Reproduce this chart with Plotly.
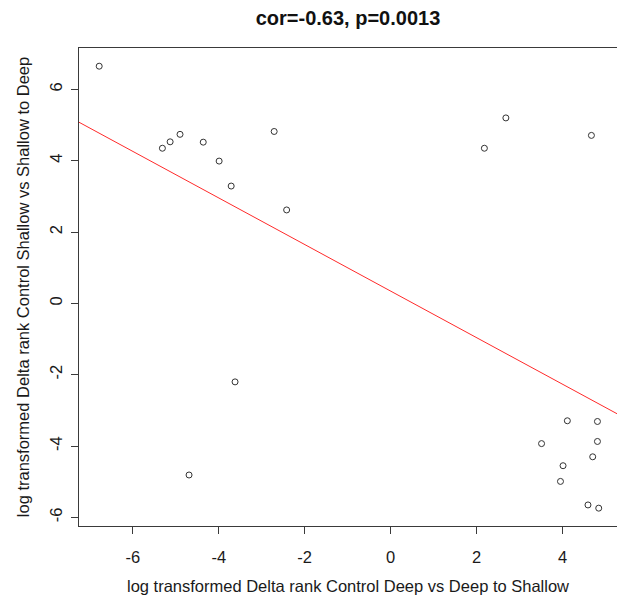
import numpy as np
import plotly.graph_objects as go

# Data
x_deep = [-6.78, -5.31, -5.13, -4.90, -4.36, -3.99, -3.71, -2.71, -2.42,
          -3.62, -4.69,
          2.68, 2.18, 4.67,
          4.11, 4.81, 3.51, 4.81, 4.70, 4.01, 3.95, 4.59, 4.84]
y_shallow = [6.65, 4.35, 4.53, 4.74, 4.52, 3.99, 3.29, 4.82, 2.62,
             -2.20, -4.81,
             5.20, 4.35, 4.71,
             -3.29, -3.31, -3.93, -3.87, -4.30, -4.55, -4.99, -5.65, -5.74]
tick_vals = [-6, -4, -2, 0, 2, 4, 6]
tick_text = ["-6", "-4", "-2", "0", "2", "4", "6"]
title_text = "cor=-0.63, p=0.0013"
x_title = "log transformed Delta rank Control Deep vs Deep to Shallow"
y_title = "log transformed Delta rank Control Shallow vs Shallow to Deep"

X_RANGE = [-7.25, 5.265]
Y_RANGE = [-6.24, 7.16]

# least-squares fit (abline(lm(y ~ x)))
slope, intercept = np.polyfit(np.array(x_deep), np.array(y_shallow), 1)

FONT = "Liberation Sans, Arial, sans-serif"
AX = "#3a3a3a"

W, H = 617, 601

fig = go.Figure()
fig.add_trace(go.Scatter(
    x=x_deep, y=y_shallow, mode="markers",
    marker=dict(symbol="circle-open", size=6, color="#333333",
                line=dict(width=1, color="#333333")),
    showlegend=False, hoverinfo="x+y"))

fig.add_shape(type="line", xref="x", yref="y",
              x0=X_RANGE[0], y0=intercept + slope * X_RANGE[0],
              x1=X_RANGE[1], y1=intercept + slope * X_RANGE[1],
              line=dict(color="#ff2a2a", width=1))

fig.update_layout(
    width=W, height=H,
    margin=dict(l=79, r=0, t=48, b=75, autoexpand=False),
    paper_bgcolor="white", plot_bgcolor="white",
    font=dict(family=FONT, size=16.5, color="#1a1a1a"),
    title=dict(text="<b>" + title_text + "</b>", x=0.5, xref="paper",
               xanchor="center", y=1 - 18 / H, yref="container",
               yanchor="middle", font=dict(size=20, family=FONT, color="#111")),
    xaxis=dict(range=X_RANGE, tickvals=[-6, -4, -2, 0, 2, 4],
               ticktext=tick_text[:6],
               showgrid=False, zeroline=False, showline=True, mirror=True,
               linecolor=AX, linewidth=1, ticks="outside", ticklen=7,
               tickcolor=AX, tickwidth=1, ticklabelstandoff=9,
               automargin=False,
               title=dict(text=x_title, standoff=15,
                          font=dict(size=16.5, family=FONT))),
    yaxis=dict(range=Y_RANGE, tickvals=tick_vals, ticktext=tick_text,
               tickangle=-90,
               showgrid=False, zeroline=False, showline=True, mirror=False,
               linecolor=AX, linewidth=1, ticks="outside", ticklen=7,
               tickcolor=AX, tickwidth=1, ticklabelstandoff=2,
               automargin=False,
               title=dict(text=y_title, standoff=13,
                          font=dict(size=16.5, family=FONT))),
)

# remove the default 8px page margin so the figure fills the window exactly
fig.write_html("out.html",
               config={"displayModeBar": False},
               post_script="document.body.style.margin='0';"
                           "document.body.style.overflow='hidden';")
